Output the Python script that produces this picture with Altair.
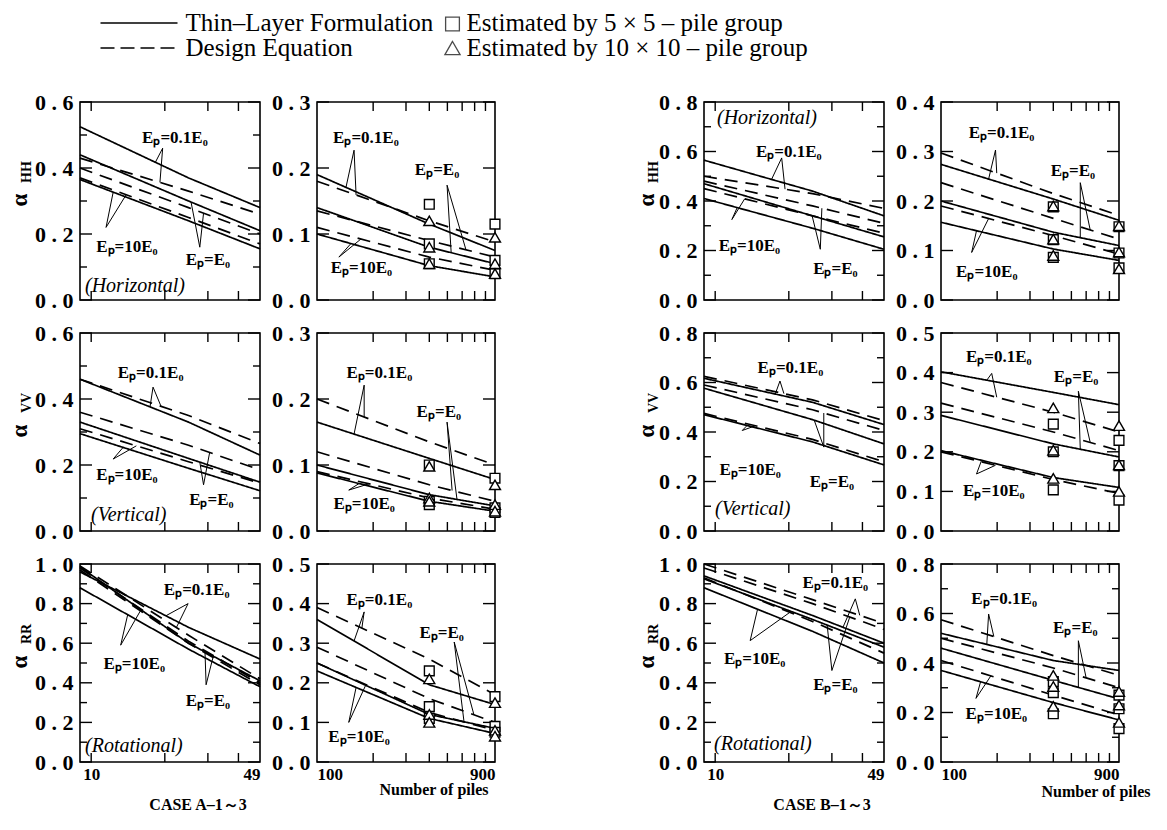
import math
import altair as alt
import pandas as pd

FONT = "Liberation Serif"
EP = ["0.1E0", "E0", "10E0"]
NOTE_TEXT = ["Eₚ=0.1E₀", "Eₚ=E₀", "Eₚ=10E₀"]

XL = [9, 25, 49]          # number of piles, small groups
XR = [100, 400, 900]      # number of piles, large groups
XM = [400, 900]           # estimated points
XT_L = [10, 20, 30, 40]
XT_R = [200, 300, 400, 500, 600, 700, 800]
XLAB_L = [10, 49]
XLAB_R = [100, 900]

# ---------------- CASE A ----------------
A_HH_L_THIN = [[0.525, 0.37, 0.28], [0.44, 0.30, 0.21], [0.365, 0.24, 0.155]]
A_HH_L_DES = [[0.43, 0.33, 0.26], [0.40, 0.28, 0.20], [0.37, 0.25, 0.17]]
A_HH_R_THIN = [[0.19, 0.115, 0.075], [0.14, 0.08, 0.055], [0.10, 0.052, 0.035]]
A_HH_R_DES = [[0.18, 0.12, 0.088], [0.135, 0.09, 0.065], [0.11, 0.065, 0.045]]
A_HH_R_SQ = [[0.145, 0.085, 0.055], [0.115, 0.06, 0.04]]
A_HH_R_TRI = [[0.12, 0.08, 0.055], [0.095, 0.055, 0.04]]

A_VV_L_THIN = [[0.46, 0.33, 0.23], [0.33, 0.22, 0.148], [0.295, 0.19, 0.122]]
A_VV_L_DES = [[0.46, 0.35, 0.265], [0.36, 0.26, 0.185], [0.31, 0.21, 0.145]]
A_VV_R_THIN = [[0.165, 0.11, 0.078], [0.10, 0.055, 0.038], [0.088, 0.045, 0.03]]
A_VV_R_DES = [[0.20, 0.135, 0.10], [0.12, 0.07, 0.045], [0.09, 0.05, 0.033]]
A_VV_R_SQ = [[0.10, 0.045, 0.04], [0.08, 0.035, 0.028]]
A_VV_R_TRI = [[0.098, 0.05, 0.045], [0.07, 0.04, 0.03]]

A_RR_L_THIN = [[0.96, 0.68, 0.52], [0.985, 0.60, 0.41], [0.88, 0.57, 0.38]]
A_RR_L_DES = [[0.99, 0.64, 0.42], [0.98, 0.61, 0.40], [0.97, 0.60, 0.39]]
A_RR_R_THIN = [[0.36, 0.195, 0.145], [0.25, 0.12, 0.085], [0.23, 0.11, 0.072]]
A_RR_R_DES = [[0.39, 0.26, 0.17], [0.29, 0.16, 0.10], [0.25, 0.125, 0.08]]
A_RR_R_SQ = [[0.23, 0.14, 0.11], [0.165, 0.09, 0.075]]
A_RR_R_TRI = [[0.21, 0.12, 0.10], [0.15, 0.08, 0.065]]

# ---------------- CASE B ----------------
B_HH_L_THIN = [[0.565, 0.44, 0.34], [0.47, 0.34, 0.255], [0.41, 0.29, 0.205]]
B_HH_L_DES = [[0.50, 0.43, 0.37], [0.48, 0.38, 0.31], [0.45, 0.34, 0.27]]
B_HH_R_THIN = [[0.274, 0.204, 0.161], [0.20, 0.137, 0.11], [0.157, 0.103, 0.08]]
B_HH_R_DES = [[0.297, 0.215, 0.171], [0.237, 0.165, 0.123], [0.19, 0.13, 0.093]]
B_HH_R_SQ = [[0.188, 0.122, 0.086], [0.148, 0.095, 0.065]]
B_HH_R_TRI = [[0.19, 0.123, 0.09], [0.15, 0.097, 0.063]]

B_VV_L_THIN = [[0.617, 0.52, 0.43], [0.577, 0.45, 0.352], [0.47, 0.36, 0.267]]
B_VV_L_DES = [[0.625, 0.53, 0.446], [0.59, 0.49, 0.406], [0.475, 0.37, 0.28]]
B_VV_R_THIN = [[0.402, 0.35, 0.319], [0.292, 0.22, 0.187], [0.203, 0.135, 0.11]]
B_VV_R_DES = [[0.375, 0.30, 0.25], [0.323, 0.25, 0.203], [0.20, 0.13, 0.095]]
B_VV_R_SQ = [[0.27, 0.20, 0.104], [0.229, 0.165, 0.078]]
B_VV_R_TRI = [[0.311, 0.204, 0.133], [0.266, 0.167, 0.10]]

B_RR_L_THIN = [[0.94, 0.74, 0.60], [0.925, 0.72, 0.58], [0.88, 0.66, 0.50]]
B_RR_L_DES = [[1.0, 0.82, 0.70], [0.98, 0.80, 0.67], [0.93, 0.71, 0.55]]
B_RR_R_THIN = [[0.52, 0.41, 0.37], [0.46, 0.33, 0.255], [0.37, 0.24, 0.17]]
B_RR_R_DES = [[0.575, 0.43, 0.35], [0.50, 0.38, 0.30], [0.41, 0.27, 0.19]]
B_RR_R_SQ = [[0.325, 0.28, 0.195], [0.27, 0.215, 0.135]]
B_RR_R_TRI = [[0.35, 0.305, 0.225], [0.285, 0.23, 0.16]]

# annotation text anchors (data coordinates), order: 0.1E0, E0, 10E0
A_HH_L_NX, A_HH_L_NY = [22, 30, 14], [0.49, 0.12, 0.16]
A_HH_R_NX, A_HH_R_NY = [183, 440, 173], [0.245, 0.197, 0.048]
A_VV_L_NX, A_VV_L_NY = [17.5, 31, 14], [0.48, 0.094, 0.17]
A_VV_R_NX, A_VV_R_NY = [216, 450, 179], [0.24, 0.18, 0.041]
A_RR_L_NX, A_RR_L_NY = [27, 30, 15], [0.87, 0.31, 0.495]
A_RR_R_NX, A_RR_R_NY = [216, 466, 168], [0.41, 0.325, 0.063]
B_HH_L_NX, B_HH_L_NY = [20, 31, 13.8], [0.60, 0.125, 0.22]
B_HH_R_NX, B_HH_R_NY = [211, 510, 176], [0.338, 0.26, 0.056]
B_VV_L_NX, B_VV_L_NY = [20.3, 30, 13.9], [0.657, 0.2, 0.247]
B_VV_R_NX, B_VV_R_NY = [204, 530, 192], [0.44, 0.39, 0.10]
B_RR_L_NX, B_RR_L_NY = [31, 31, 14.5], [0.905, 0.39, 0.52]
B_RR_R_NX, B_RR_R_NY = [218, 525, 198], [0.66, 0.54, 0.195]

# leader pointers: [apex x, apex y, x on thin curve, x on design curve], order 0.1E0, E0, 10E0
A_HH_L_LEAD = [[19.6, 0.46, 18.3, 19.1], [27.8, 0.16, 25.6, 28.8], [11.5, 0.22, 12.3, 13.9]]
A_HH_R_LEAD = [[158, 0.227, 143, 162], [498, 0.174, 524, 629], [131, 0.065, 152, 172]]
A_VV_L_LEAD = [[17.9, 0.436, 17.4, 19.3], [28.8, 0.14, 27.8, 30.5], [12.3, 0.218, 13.5, 15.3]]
A_VV_R_LEAD = [[179, 0.221, 158, 179], [498, 0.165, 563, 530], [148, 0.062, 168, 190]]
A_RR_L_LEAD = [[24.9, 0.80, 20.2, 22.3], [29.5, 0.39, 29.2, 31.6], [13.2, 0.59, 14.1, 15.9]]
A_RR_R_LEAD = [[179, 0.379, 158, 174], [544, 0.303, 614, 694], [148, 0.10, 162, 183]]
B_HH_L_LEAD = [[18.7, 0.574, 17.0, 19.3], [26.9, 0.205, 24.9, 27.3], [11.7, 0.325, 12.3, 13.2]]
B_HH_R_LEAD = [[196, 0.303, 180, 199], [558, 0.237, 558, 631], [146, 0.096, 155, 180]]
B_VV_L_LEAD = [[18.4, 0.606, 17.6, 19.1], [27.8, 0.339, 25.4, 27.8], [12.9, 0.406, 13.5, 14.6]]
B_VV_R_LEAD = [[187, 0.398, 176, 199], [545, 0.353, 558, 631], [155, 0.144, 165, 196]]
B_RR_L_LEAD = [[37.4, 0.824, 33.3, 39.0], [30.0, 0.462, 28.7, 35.5], [13.9, 0.613, 14.9, 20.2]]
B_RR_R_LEAD = [[180, 0.598, 176, 192], [545, 0.49, 545, 600], [154, 0.257, 163, 185]]

Y06 = ([0, 0.6], [0, 0.2, 0.4, 0.6], [0.1, 0.3, 0.5])
Y03 = ([0, 0.3], [0, 0.1, 0.2, 0.3], [])
Y10 = ([0, 1.0], [0, 0.2, 0.4, 0.6, 0.8, 1.0], [0.1, 0.3, 0.5, 0.7, 0.9])
Y05 = ([0, 0.5], [0, 0.1, 0.2, 0.3, 0.4, 0.5], [])
Y08 = ([0, 0.8], [0, 0.2, 0.4, 0.6, 0.8], [0.1, 0.3, 0.5, 0.7])
Y04 = ([0, 0.4], [0, 0.1, 0.2, 0.3, 0.4], [])

H = 198
W1 = 180
W2 = 178
A1LEFT = 79.5   # expected page x of the first panel's plot area (legend is placed relative to it)


def on_curve(xs, vals, x):
    """value of a drawn curve at x (log-x straight segments, as the line is drawn)"""
    lx = math.log(x)
    for i in range(len(xs) - 1):
        a, b = math.log(xs[i]), math.log(xs[i + 1])
        if lx <= b or i == len(xs) - 2:
            t = (lx - a) / (b - a)
            return vals[i] + t * (vals[i + 1] - vals[i])


def one_text(t, x, y, size, weight="normal", style="normal", angle=0, align="center"):
    return alt.Chart(pd.DataFrame({"t": [t]})).mark_text(
        font=FONT, fontSize=size, fontWeight=weight, fontStyle=style, angle=angle,
        align=align, baseline="middle", color="black"
    ).encode(x=alt.value(x), y=alt.value(y), text="t:N")


def panel(thin, des, yspec, nx, ny, lead, left, sq=None, tri=None, bottom=False,
          alpha=None, alpha_x=-60, mode=None, xtitle=None):
    ydom, ymaj, ymin = yspec
    width = W1 if left else W2
    xs = XL if left else XR
    xdom = [9, 49] if left else [100, 900]
    xt = XT_L if left else XT_R
    xlab = XLAB_L if left else XLAB_R

    rows = []
    for kind, series in (("thin", thin), ("design", des)):
        for ep, vals in zip(EP, series):
            for x, y in zip(xs, vals):
                rows.append({"x": x, "y": y, "ep": ep, "kind": kind})
    df = pd.DataFrame(rows)

    xsc = alt.Scale(type="log", domain=xdom, nice=False)
    ysc = alt.Scale(domain=ydom, nice=False, zero=False)

    if bottom:
        xaxis = alt.Axis(values=xlab, labelExpr="format(datum.value, 'd')", ticks=False,
                         domain=False, grid=False, title=None, labelFont=FONT,
                         labelFontSize=17, labelFontWeight="bold", labelColor="black",
                         labelPadding=4, labelFlush=False,
                         labelAlign={"condition": [
                             {"test": f"datum.value == {xlab[-1]}", "value": "right"},
                             {"test": "datum.value == 100", "value": "left"}],
                             "value": "center"})
    else:
        xaxis = None
    yaxis = alt.Axis(values=ymaj, labelExpr="replace(format(datum.value, '.1f'), '.', ' . ')",
                     ticks=False, domain=False, grid=False, title=None, labelFont=FONT,
                     labelFontSize=22, labelFontWeight="bold", labelColor="black", labelPadding=7)

    def X(f):
        return alt.X(f, scale=xsc, axis=xaxis)

    def Y(f):
        return alt.Y(f, scale=ysc, axis=yaxis)

    layers = []
    layers.append(alt.Chart(df).mark_line(color="black", strokeWidth=1.7).encode(
        x=X("x:Q"), y=Y("y:Q"),
        detail="ep:N",
        strokeDash=alt.StrokeDash("kind:N", scale=alt.Scale(domain=["thin", "design"], range=[[1, 0], [13, 8]]), legend=None),
    ))

    # leader pointers from the labels to the curves
    lrows = []
    for (ax, ay, tx1, tx2), s_vals, d_vals in zip(lead, thin, des):
        lrows.append({"x": ax, "y": ay, "x2": tx1, "y2": on_curve(xs, s_vals, tx1)})
        lrows.append({"x": ax, "y": ay, "x2": tx2, "y2": on_curve(xs, d_vals, tx2)})
    layers.append(alt.Chart(pd.DataFrame(lrows)).mark_rule(color="black", strokeWidth=1.0).encode(
        x=X("x:Q"), y=Y("y:Q"), x2="x2:Q", y2="y2:Q"))

    rule = dict(color="black", strokeWidth=1.4)
    for vals, ln in ((ymaj, 12), (ymin, 7)):
        if not vals:
            continue
        tdf = pd.DataFrame({"v": vals})
        layers.append(alt.Chart(tdf).mark_rule(**rule).encode(
            y=Y("v:Q"), x=alt.value(0), x2=alt.value(ln)))
        layers.append(alt.Chart(tdf).mark_rule(**rule).encode(
            y=Y("v:Q"), x=alt.value(width), x2=alt.value(width - ln)))
    xdf = pd.DataFrame({"v": xt})
    layers.append(alt.Chart(xdf).mark_rule(**rule).encode(
        x=X("v:Q"), y=alt.value(0), y2=alt.value(9)))
    layers.append(alt.Chart(xdf).mark_rule(**rule).encode(
        x=X("v:Q"), y=alt.value(H), y2=alt.value(H - 9)))

    if sq is not None:
        sdf = pd.DataFrame([{"x": x, "y": v} for x, vals in zip(XM, sq) for v in vals])
        layers.append(alt.Chart(sdf).mark_point(shape="square", size=95, filled=True, fill="white",
                                                stroke="black", strokeWidth=1.4, opacity=1).encode(
            x=X("x:Q"), y=Y("y:Q")))
    if tri is not None:
        tdf2 = pd.DataFrame([{"x": x, "y": v} for x, vals in zip(XM, tri) for v in vals])
        layers.append(alt.Chart(tdf2).mark_point(shape="triangle-up", size=120, filled=True, fill="white",
                                                 stroke="black", strokeWidth=1.4, opacity=1).encode(
            x=X("x:Q"), y=Y("y:Q")))

    ndf = pd.DataFrame({"x": nx, "y": ny, "t": NOTE_TEXT})
    layers.append(alt.Chart(ndf).mark_text(font=FONT, fontSize=17, fontWeight="bold", color="black").encode(
        x=X("x:Q"), y=Y("y:Q"), text="t:N"))

    if mode is not None:
        t, mx, my = mode
        layers.append(one_text(t, mx, my, 20, style="italic", align="left"))
    if alpha is not None:
        layers.append(one_text("α", alpha_x, 98, 23, weight="bold", angle=270))
        layers.append(one_text(alpha, alpha_x + 7, 70, 14, weight="bold", angle=270))
    if xtitle is not None:
        t, tx, ty = xtitle
        layers.append(one_text(t, tx, H + ty, 16, weight="bold"))

    return alt.layer(*layers).properties(
        width=width, height=H,
        view=alt.ViewBackground(stroke="black", strokeWidth=1.6))


# ---------------- panels ----------------
a1 = panel(A_HH_L_THIN, A_HH_L_DES, Y06, A_HH_L_NX, A_HH_L_NY, A_HH_L_LEAD, True, alpha="HH",
           mode=("(Horizontal)", 5, H - 14))
a2 = panel(A_HH_R_THIN, A_HH_R_DES, Y03, A_HH_R_NX, A_HH_R_NY, A_HH_R_LEAD, False,
           sq=A_HH_R_SQ, tri=A_HH_R_TRI)
a3 = panel(A_VV_L_THIN, A_VV_L_DES, Y06, A_VV_L_NX, A_VV_L_NY, A_VV_L_LEAD, True, alpha="VV",
           mode=("(Vertical)", 11, H - 16))
a4 = panel(A_VV_R_THIN, A_VV_R_DES, Y03, A_VV_R_NX, A_VV_R_NY, A_VV_R_LEAD, False,
           sq=A_VV_R_SQ, tri=A_VV_R_TRI)
a5 = panel(A_RR_L_THIN, A_RR_L_DES, Y10, A_RR_L_NX, A_RR_L_NY, A_RR_L_LEAD, True, alpha="RR",
           bottom=True, mode=("(Rotational)", 5, H - 16), xtitle=("CASE A–1～3", 118, 43))
a6 = panel(A_RR_R_THIN, A_RR_R_DES, Y05, A_RR_R_NX, A_RR_R_NY, A_RR_R_LEAD, False,
           sq=A_RR_R_SQ, tri=A_RR_R_TRI, bottom=True, xtitle=("Number of piles", 117, 28))

b1 = panel(B_HH_L_THIN, B_HH_L_DES, Y08, B_HH_L_NX, B_HH_L_NY, B_HH_L_LEAD, True, alpha="HH",
           alpha_x=-57, mode=("(Horizontal)", 13, 16))
b2 = panel(B_HH_R_THIN, B_HH_R_DES, Y04, B_HH_R_NX, B_HH_R_NY, B_HH_R_LEAD, False,
           sq=B_HH_R_SQ, tri=B_HH_R_TRI)
b3 = panel(B_VV_L_THIN, B_VV_L_DES, Y08, B_VV_L_NX, B_VV_L_NY, B_VV_L_LEAD, True, alpha="VV",
           alpha_x=-57, mode=("(Vertical)", 11, H - 22))
b4 = panel(B_VV_R_THIN, B_VV_R_DES, Y05, B_VV_R_NX, B_VV_R_NY, B_VV_R_LEAD, False,
           sq=B_VV_R_SQ, tri=B_VV_R_TRI)
b5 = panel(B_RR_L_THIN, B_RR_L_DES, Y10, B_RR_L_NX, B_RR_L_NY, B_RR_L_LEAD, True, alpha="RR",
           alpha_x=-57, bottom=True, mode=("(Rotational)", 10, H - 18), xtitle=("CASE B–1～3", 118, 43))
b6 = panel(B_RR_R_THIN, B_RR_R_DES, Y08, B_RR_R_NX, B_RR_R_NY, B_RR_R_LEAD, False,
           sq=B_RR_R_SQ, tri=B_RR_R_TRI, bottom=True, xtitle=("Number of piles", 155, 30))

caseA = alt.vconcat(alt.hconcat(a1, a2, spacing=5), alt.hconcat(a3, a4, spacing=5),
                    alt.hconcat(a5, a6, spacing=5), spacing=9)
caseB = alt.vconcat(alt.hconcat(b1, b2, spacing=5), alt.hconcat(b3, b4, spacing=5),
                    alt.hconcat(b5, b6, spacing=5), spacing=9)
body = alt.hconcat(caseA, caseB, spacing=130)

# ---------------- legend ----------------
dummy = pd.DataFrame({"k": [0]})
LEG_Y1, LEG_Y2 = 13, 38
lx = lambda px: px - A1LEFT
legend = alt.layer(
    alt.Chart(dummy).mark_rule(color="black", strokeWidth=1.6).encode(
        x=alt.value(lx(100)), x2=alt.value(lx(177)), y=alt.value(LEG_Y1)),
    alt.Chart(dummy).mark_rule(color="black", strokeWidth=1.6, strokeDash=[14, 6]).encode(
        x=alt.value(lx(100)), x2=alt.value(lx(177)), y=alt.value(LEG_Y2)),
    one_text("Thin–Layer Formulation", lx(185), LEG_Y1, 25, align="left"),
    one_text("Design Equation", lx(185), LEG_Y2, 25, align="left"),
    alt.Chart(dummy).mark_point(shape="square", size=190, filled=False, color="black", strokeWidth=1.3).encode(
        x=alt.value(lx(452)), y=alt.value(LEG_Y1 + 1)),
    alt.Chart(dummy).mark_point(shape="triangle-up", size=230, filled=False, color="black", strokeWidth=1.3).encode(
        x=alt.value(lx(452)), y=alt.value(LEG_Y2)),
    one_text("Estimated by 5 × 5 – pile group", lx(466), LEG_Y1, 25, align="left"),
    one_text("Estimated by 10 × 10 – pile group", lx(466), LEG_Y2, 25, align="left"),
).properties(width=760, height=54, view=alt.ViewBackground(stroke=None))

chart = alt.vconcat(legend, body, spacing=26).properties(
    padding={"left": 0, "top": 2, "right": 0, "bottom": 0},
    background="white",
).configure_view(stroke=None)

chart.save("out.html", embed_options={"renderer": "svg", "actions": False})
